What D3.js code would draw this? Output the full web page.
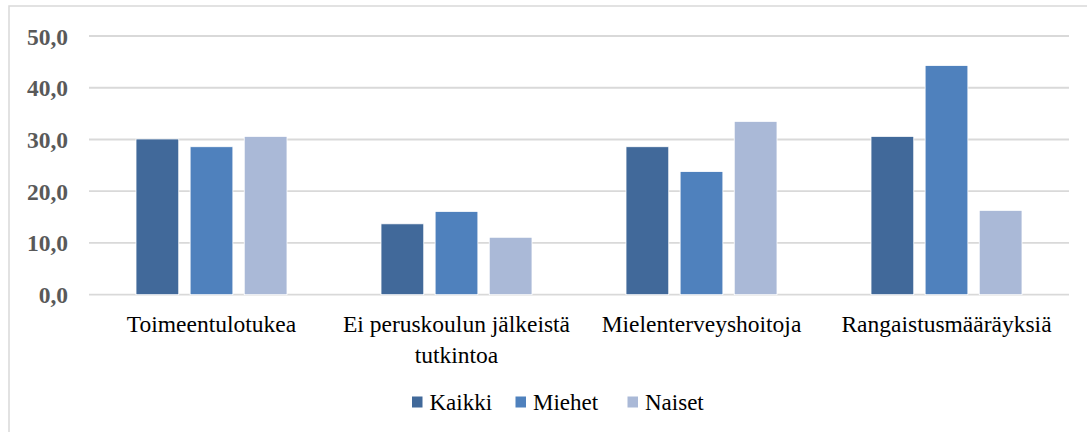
<!DOCTYPE html>
<html><head><meta charset="utf-8">
<script src="https://cdn.jsdelivr.net/npm/d3@7"></script>
<style>body{margin:0;background:#fff}</style>
</head><body>
<svg id="c" width="1087" height="432"></svg>
<script>
const categories = ["Toimeentulotukea", "Ei peruskoulun jälkeistä tutkintoa", "Mielenterveyshoitoja", "Rangaistusmääräyksiä"];
const categoryLines = [["Toimeentulotukea"], ["Ei peruskoulun jälkeistä", "tutkintoa"], ["Mielenterveyshoitoja"], ["Rangaistusmääräyksiä"]];
const seriesNames = ["Kaikki", "Miehet", "Naiset"];
const kaikki = [30.1, 13.7, 28.6, 30.6];
const miehet = [28.6, 16.1, 23.8, 44.3];
const naiset = [30.6, 11.1, 33.5, 16.3];
const yTicks = [0, 10, 20, 30, 40, 50];
const colors = ["#41699A", "#4F81BD", "#AAB9D7"];

const series = [kaikki, miehet, naiset];
const svg = d3.select("#c");
const FONT = "Liberation Serif";
function serifText(sel, size, weight) {
  return sel.attr("font-family", FONT).attr("font-size", size)
    .style("font-family", FONT, "important").style("font-size", size + "px", "important")
    .style("font-weight", weight || "normal", "important");
}

// outer border
svg.append("rect").attr("x", 9).attr("y", 6).attr("width", 1100).attr("height", 450)
  .attr("fill", "none").attr("stroke", "#D9D9D9").attr("stroke-width", 1.5);

const x0 = d3.scaleBand().domain(categories).range([89, 1069]);
const x1 = d3.scaleBand().domain(seriesNames).range([0, 151]).paddingInner(0.21).paddingOuter(0);
const y = d3.scaleLinear().domain([0, 50]).range([294.7, 36]);

// gridlines
svg.append("g").selectAll("line").data(yTicks).join("line")
  .attr("x1", 89).attr("x2", 1069)
  .attr("y1", d => y(d)).attr("y2", d => y(d))
  .attr("stroke", "#D9D9D9").attr("stroke-width", 1.8);

// y axis labels
const yAxis = d3.axisLeft(y).tickValues(yTicks).tickSize(0).tickPadding(0)
  .tickFormat(d => d3.format(".1f")(d).replace(".", ","));
const yg = svg.append("g").attr("transform", "translate(68,0)").call(yAxis);
yg.attr("font-family", FONT);
yg.select(".domain").remove();
serifText(yg.selectAll("text"), 23.5, "bold").attr("fill", "#595959").attr("dy", "0.34em");

// bars
const groups = svg.append("g").selectAll("g").data(categories).join("g")
  .attr("transform", c => `translate(${x0(c) + x0.bandwidth() / 2 - 75.5},0)`);
groups.selectAll("rect").data((c, i) => seriesNames.map((s, j) => ({s, v: series[j][i], j})))
  .join("rect")
  .attr("x", d => x1(d.s)).attr("width", x1.bandwidth())
  .attr("y", d => y(d.v)).attr("height", d => y(0) - y(d.v))
  .attr("fill", d => colors[d.j]).attr("stroke", "#fff").attr("stroke-width", 0.8);

// x labels
categories.forEach((c, i) => {
  const cx = x0(c) + x0.bandwidth() / 2;
  categoryLines[i].forEach((ln, k) => {
    serifText(svg.append("text"), 23.5).attr("x", cx).attr("y", 331.5 + k * 31.5)
      .attr("text-anchor", "middle").attr("fill", "#000").text(ln);
  });
});

// legend
const legX = [412, 515.5, 627.5];
seriesNames.forEach((s, j) => {
  svg.append("rect").attr("x", legX[j]).attr("y", 396.5).attr("width", 10.5).attr("height", 11).attr("fill", colors[j]);
  serifText(svg.append("text"), 23).attr("x", legX[j] + 17.5).attr("y", 410).attr("fill", "#000").text(s);
});
</script>
</body></html>
